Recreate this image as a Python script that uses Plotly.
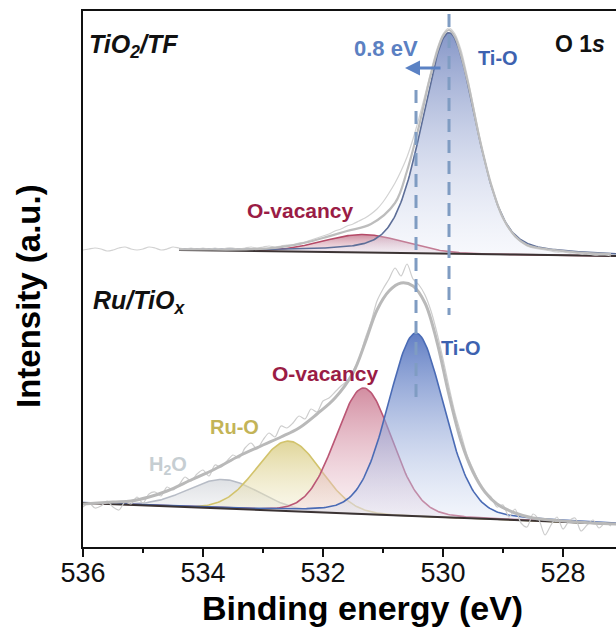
import numpy as np
import plotly.graph_objects as go

# ---------------------------------------------------------------------------
# Data (intensity in arbitrary units, binding energy in eV)
# ---------------------------------------------------------------------------
be_grid = np.round(np.arange(536.0, 527.15, -0.1), 1)

# measured O 1s spectra on be_grid
tf_raw = [297, 298, 299, 298, 296, 297, 299, 300, 298, 297,
          298, 300, 299, 297, 298, 300, 299, 298, 299, 298,
          299, 298, 299, 298, 299, 299, 298, 299, 300, 299,
          300, 301, 300, 301, 302, 302, 304, 305, 307, 309,
          311, 313, 316, 318, 321, 323, 326, 329, 333, 338,
          345, 354, 364, 376, 390, 408, 429, 452, 476, 498,
          513, 519, 513, 497, 472, 443, 413, 385, 362, 343,
          329, 318, 310, 305, 301, 299, 298, 297, 296, 295,
          295, 294, 294, 293, 293, 292, 292, 292, 291]

ru_raw = [40, 44, 39, 41, 46, 40, 37, 45, 43, 50,
          44, 53, 55, 51, 60, 57, 62, 70, 66, 73,
          77, 71, 82, 80, 86, 92, 89, 99, 104, 98,
          107, 114, 110, 121, 119, 124, 131, 128, 138, 135,
          146, 149, 155, 161, 166, 176, 188, 208, 225, 246,
          258, 268, 279, 271, 283, 268, 262, 252, 236, 214,
          188, 160, 134, 113, 92, 78, 65, 55, 50, 40,
          42, 30, 38, 24, 20, 33, 27, 12, 22, 30,
          18, 26, 29, 16, 22, 27, 19, 24, 21]

# fit envelopes
tf_env_be = [534.4, 534.0, 533.6, 533.2, 532.8, 532.4, 532.0, 531.6, 531.2,
             530.8, 530.6, 530.4, 530.2, 530.0, 529.9, 529.8, 529.6, 529.4,
             529.2, 529.0, 528.8, 528.6, 528.4, 528.0, 527.6, 527.2]
tf_env = [297.7, 297.6, 297.4, 297.8, 299.2, 302.8, 309, 316, 323,
          344, 376, 421, 473, 511, 517, 510, 468, 411,
          363, 329, 311, 302, 299, 296, 294, 293]

ru_env_be = [536.0, 535.5, 535.2, 534.9, 534.6, 534.2, 533.8, 533.4, 533.0,
             532.7, 532.4, 532.1, 531.8, 531.5, 531.3, 531.1, 530.9, 530.7,
             530.5, 530.3, 530.1, 529.9, 529.7, 529.5, 529.3, 529.1, 528.8,
             528.5, 528.0, 527.5, 527.1]
ru_env = [43, 45, 46, 50, 56, 67, 78, 91, 102,
          110, 119, 133, 149, 174, 204, 237, 256, 264,
          261, 244, 205, 152, 106, 75, 55, 43, 34,
          29, 26, 24, 23]

# linear backgrounds (end points)
tf_bg_be = [534.4, 527.1]
tf_bg = [297, 291]
ru_bg_be = [536.0, 527.1]
ru_bg = [44, 23]

# fitted components: centre (eV), height above background, FWHM (eV), Lorentzian fraction
tf_names = ["O-vacancy", "Ti-O"]
tf_centers = [531.32, 529.9]
tf_heights = [18, 221]
tf_fwhm = [1.6, 1.05]
tf_lorentz = [0.0, 0.3]

ru_names = ["H2O", "Ru-O", "O-vacancy", "Ti-O"]
ru_centers = [533.66, 532.57, 531.32, 530.45]
ru_heights = [29, 70, 126, 183]
ru_fwhm = [1.4, 1.25, 1.1, 1.1]
ru_lorentz = [0.0, 0.0, 0.1, 0.2]

# peak positions marked by dashed guides
tio_guides = [tf_centers[1], ru_centers[3]]

# ---------------------------------------------------------------------------
# Styling
# ---------------------------------------------------------------------------
FONT = "Liberation Sans, Arial, sans-serif"
W, H = 616, 633
PLOT_L, PLOT_R, PLOT_T, PLOT_B = 83, 616, 11, 547

style = {
    "Ti-O": dict(line="#4a6bb5", top="rgba(70,104,186,0.85)", bot="rgba(225,232,247,0.35)"),
    "Ti-O-tf": dict(line="#5d6e98", top="rgba(112,132,190,0.85)", bot="rgba(230,234,247,0.30)"),
    "O-vacancy": dict(line="#bb5775", top="rgba(196,104,130,0.75)", bot="rgba(246,226,233,0.35)"),
    "O-vacancy-tf": dict(line="#b54a67", top="rgba(185,95,120,0.70)", bot="rgba(244,226,232,0.30)"),
    "Ru-O": dict(line="#d2c36c", top="rgba(214,200,120,0.75)", bot="rgba(247,243,222,0.35)"),
    "H2O": dict(line="#b7bcc6", top="rgba(200,204,210,0.60)", bot="rgba(243,243,245,0.35)"),
}


def px_x(px):
    return (px - PLOT_L) / (PLOT_R - PLOT_L)


def px_y(py):
    return (PLOT_B - py) / (PLOT_B - PLOT_T)


def pseudo_voigt(e, c, h, w, eta):
    r = (e - c) / w
    g = np.exp(-4 * np.log(2) * r ** 2)
    lo = 1.0 / (1.0 + 4 * r ** 2)
    return h * ((1 - eta) * g + eta * lo)


def background(e, bg_be, bg):
    return np.interp(e, bg_be[::-1], bg[::-1])


fig = go.Figure()


def add_spectrum(names, centers, heights, fwhm, lorentz, bg_be, bg, suffix):
    e = np.linspace(bg_be[0], bg_be[1], 400)
    base = background(e, bg_be, bg)
    for n, c, h, w, eta in zip(names, centers, heights, fwhm, lorentz):
        st = style.get(n + suffix, style[n])
        comp = base + pseudo_voigt(e, c, h, w, eta)
        fig.add_trace(go.Scatter(
            x=np.concatenate([e, e[::-1]]), y=np.concatenate([comp, base[::-1]]),
            mode="lines", fill="toself", line=dict(width=0),
            fillgradient=dict(type="vertical", colorscale=[[0, st["bot"]], [1, st["top"]]]),
            hoverinfo="skip"))
        fig.add_trace(go.Scatter(x=e, y=comp, mode="lines",
                                 line=dict(color=st["line"], width=1.6), hoverinfo="skip"))
    fig.add_trace(go.Scatter(x=e, y=base, mode="lines",
                             line=dict(color="#3b3333", width=2), hoverinfo="skip"))


# Ru/TiOx spectrum (lower)
add_spectrum(ru_names, ru_centers, ru_heights, ru_fwhm, ru_lorentz, ru_bg_be, ru_bg, "")
fig.add_trace(go.Scatter(x=be_grid, y=ru_raw, mode="lines", line_shape="spline",
                         line=dict(color="#cdcdcd", width=1.2, smoothing=0.8), hoverinfo="skip"))
fig.add_trace(go.Scatter(x=ru_env_be, y=ru_env, mode="lines", line_shape="spline",
                         line=dict(color="#b9b9b9", width=3), hoverinfo="skip"))

# TiO2/TF spectrum (upper)
add_spectrum(tf_names, tf_centers, tf_heights, tf_fwhm, tf_lorentz, tf_bg_be, tf_bg, "-tf")
fig.add_trace(go.Scatter(x=be_grid, y=tf_raw, mode="lines", line_shape="spline",
                         line=dict(color="#d2d2d2", width=1.2, smoothing=0.8), hoverinfo="skip"))
fig.add_trace(go.Scatter(x=tf_env_be, y=tf_env, mode="lines", line_shape="spline",
                         line=dict(color="#bdbdbd", width=2.2), hoverinfo="skip"))

# dashed guides through the Ti-O maxima
guide_spans = [(533, 232), (457, 147)]
for be, (y0, y1) in zip(tio_guides, guide_spans):
    fig.add_shape(type="line", xref="x", yref="y", x0=be, x1=be, y0=y0, y1=y1,
                  line=dict(color="#7f9cc2", width=3, dash="13px,8px"))

# ---------------------------------------------------------------------------
# Labels
# ---------------------------------------------------------------------------
def label(text, x, y, size, color, anchor="center"):
    fig.add_annotation(text=text, x=px_x(x), y=px_y(y), xref="paper", yref="paper",
                       xanchor=anchor, yanchor="middle", showarrow=False,
                       font=dict(family=FONT, size=size, color=color))


label("<b><i>TiO<sub>2</sub>/TF</i></b>", 87, 46, 25, "#111111", "left")
label("<b><i>Ru/TiO<sub>x</sub></i></b>", 91, 302, 25, "#111111", "left")
label("<b>O 1<i>s</i></b>", 580, 44, 23, "#111111")
label("<b>0.8 eV</b>", 386, 48, 22, "#5b80c2")
label("<b>Ti-O</b>", 498, 58, 20, "#3d62b0")
label("<b>Ti-O</b>", 461, 348, 20, "#3d62b0")
label("<b>O-vacancy</b>", 300, 210, 21, "#9a1c45")
label("<b>O-vacancy</b>", 325, 373, 21, "#9a1c45")
label("<b>Ru-O</b>", 234, 427, 20, "#c3b457")
label("<b>H<sub>2</sub>O</b>", 168, 465, 20, "#c6ced2")

# shift arrow
fig.add_annotation(x=px_x(405), y=px_y(68), xref="paper", yref="paper",
                   ax=37, ay=0, text="", showarrow=True, arrowhead=2,
                   arrowsize=1, arrowwidth=3, arrowcolor="#5b82c4")

# axis titles
label("<b>Binding energy (eV)</b>", 362, 608, 34, "#000000")
fig.add_annotation(text="<b>Intensity (a.u.)</b>", x=px_x(28), y=px_y(296),
                   xref="paper", yref="paper", textangle=-90, showarrow=False,
                   xanchor="center", yanchor="middle",
                   font=dict(family=FONT, size=33, color="#000000"))

fig.update_layout(
    width=W, height=H, autosize=False,
    margin=dict(l=PLOT_L, r=W - PLOT_R, t=PLOT_T, b=H - PLOT_B, pad=0),
    paper_bgcolor="white", plot_bgcolor="white", showlegend=False,
    xaxis=dict(range=[536, 527.117], tickvals=[536, 534, 532, 530, 528],
               ticks="outside", ticklen=8, tickwidth=2, tickcolor="#111",
               ticklabelstandoff=-7,
               minor=dict(tickvals=[535, 533, 531, 529], ticks="outside",
                          ticklen=4, tickwidth=2, tickcolor="#111"),
               showline=True, linewidth=2, linecolor="#111", mirror=True,
               showgrid=False, zeroline=False,
               tickfont=dict(family=FONT, size=27, color="#111")),
    yaxis=dict(range=[0, 536], showline=True, linewidth=2, linecolor="#111",
               mirror=False, showticklabels=False, ticks="", showgrid=False,
               zeroline=False),
)

fig.write_html("out.html")
